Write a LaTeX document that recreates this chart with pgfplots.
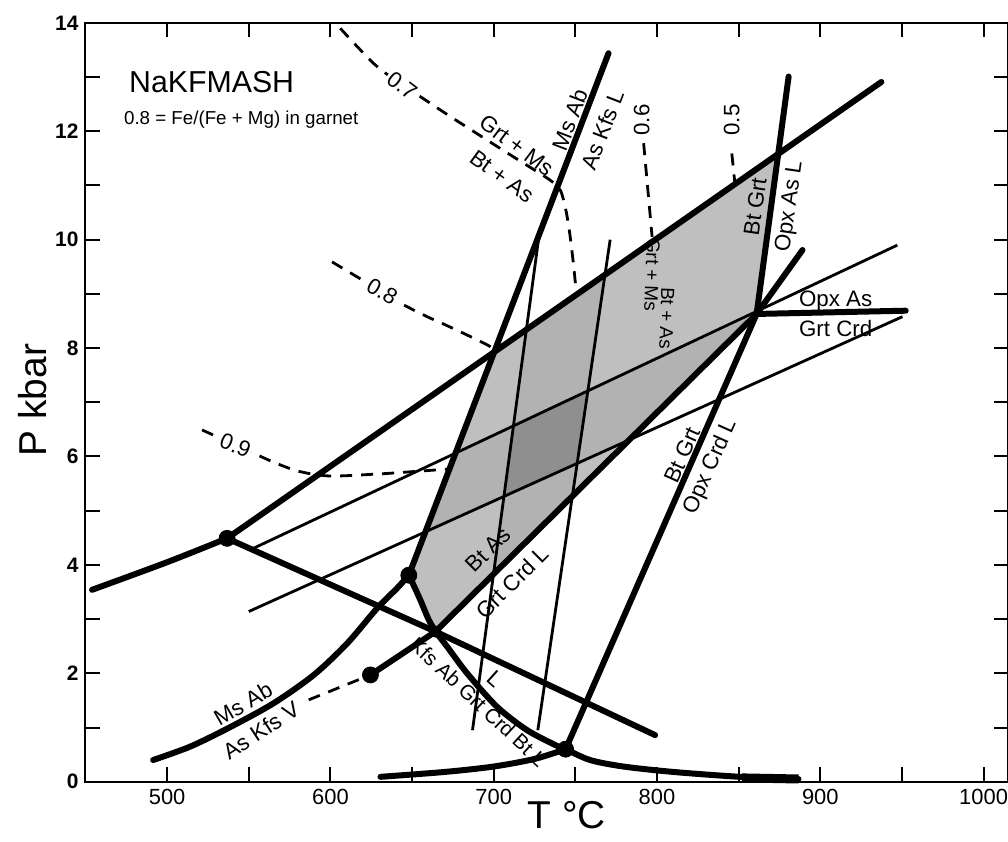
\documentclass[border=0pt]{standalone}
\usepackage{pgfplots}
\pgfplotsset{compat=1.18}
\usepackage{fontspec}
\setmainfont{Liberation Sans}
\newcommand\lbl{\fontsize{11.2}{13}\selectfont}
\tikzset{
  thk/.style={line width=3bp, black, line cap=round, line join=round},
  thn/.style={line width=1.4bp, black},
  dsh/.style={line width=1.4bp, black, dash pattern=on 6bp off 4.5bp},
}
\begin{document}
\begin{tikzpicture}
\useasboundingbox (-42.75bp,-30.15bp) rectangle (461.25bp,390.85bp);
\begin{axis}[
  scale only axis, width=461.3bp, height=379.4bp,
  xmin=450, xmax=1015, ymin=0, ymax=14,
  xtick={500,600,...,1000}, minor xtick={550,650,...,950},
  ytick={0,2,...,14}, minor ytick={1,3,...,13},
  xtick pos=both, ytick pos=both,
  xticklabel pos=lower, yticklabel pos=left,
  tick align=inside,
  major tick length=7.3bp, minor tick length=7.3bp,
  every tick/.style={line width=1bp, black},
  axis line style={line width=1bp},
  /pgf/number format/assume math mode=true,
  /pgf/number format/1000 sep={},
  xticklabel style={font=\fontsize{11}{13}\selectfont},
  yticklabel style={font=\fontsize{10.5}{12}\selectfont\bfseries},
  xlabel={T °C}, ylabel={P kbar},
  xlabel style={font=\fontsize{19.5}{22}\selectfont, at={(axis description cs:0.5219,-0.0439)}, anchor=center},
  ylabel style={font=\fontsize{19.5}{22}\selectfont, at={(axis description cs:-0.0569,0.503)}, anchor=center},
  clip=false,
]
% shaded field
\addplot[fill=gray!50, draw=none] coordinates {
  (648,3.81) (700.2,7.92) (874.1,11.57) (861,8.63) (664.3,2.77)
  (660,3.0) (655.1,3.35) (651,3.62)} -- cycle;
% bands between the thin lines
\addplot[fill=gray!60, draw=none] coordinates {
  (719.97,8.335) (768.09,9.345) (748.13,5.268) (699.85,3.829)} -- cycle;
\addplot[fill=gray!60, draw=none] coordinates {
  (676.59,6.061) (861,8.63) (783.0,6.307) (658.16,4.61)} -- cycle;
% dark field
\addplot[fill=gray!88, draw=none] coordinates {
  (712.06,6.563) (757.64,7.210) (751.1,5.873) (706.25,5.263)} -- cycle;

% thin lines
\addplot[thn] coordinates {(551,4.28) (947.2,9.9)};
\addplot[thn] coordinates {(550,3.14) (950.3,8.58)};
\addplot[thn] coordinates {(687,0.95) (727.4,10.0)};
\addplot[thn] coordinates {(727,0.95) (771.3,10.0)};

% thick lines
\addplot[thk, smooth] coordinates {(454,3.54) (500,4.05) (536.7,4.49)};
\addplot[thk] coordinates {(536.7,4.49) (937.4,12.91)};
\addplot[thk] coordinates {(536.7,4.49) (664.3,2.77) (798.8,0.86)};
\addplot[thk] coordinates {(648,3.81) (770.3,13.44)};
\addplot[thk, smooth] coordinates {(491.4,0.40) (514.3,0.65) (538.8,1.01) (565.3,1.45)
  (589.8,1.97) (610.2,2.55) (628.6,3.2) (640.8,3.57) (648,3.81)};
\addplot[thk, smooth] coordinates {(648,3.81) (651,3.62) (655.1,3.35) (660,3.0) (664.3,2.77)};
\addplot[thk, smooth] coordinates {(664.3,2.77) (671.5,2.49) (683.7,2.0) (702.1,1.38)
  (720.5,0.95) (738.8,0.66) (744,0.6) (759,0.40) (779.4,0.28) (810,0.18) (850.9,0.09) (886.6,0.05)};
\addplot[line width=4.5bp, black] coordinates {(852,0.07) (886.6,0.05)};
\addplot[thk, smooth] coordinates {(630.6,0.09) (670,0.18) (700,0.28) (725,0.42) (744,0.6)};
\addplot[thk] coordinates {(624.5,1.97) (664.3,2.77)};
\addplot[thk] coordinates {(664.3,2.77) (861,8.63)};
\addplot[thk] coordinates {(744,0.6) (861,8.63)};
\addplot[thk] coordinates {(861,8.63) (889.1,9.81)};
\addplot[thk] coordinates {(861,8.63) (880.6,13.01)};
\addplot[thk] coordinates {(861,8.63) (952.3,8.69)};

% dashed isopleths
\addplot[dsh, smooth, tension=0.4] coordinates {(606,13.9) (626.5,13.25) (643.9,12.85) (655,12.64)
  (672,12.3) (689.6,11.96) (712,11.53) (734.5,11.10) (741,10.9) (744.5,10.5) (746.8,10.06)
  (749,9.5) (750.8,8.95)};
\addplot[dsh, smooth] coordinates {(601,9.59) (621,9.23) (642.9,8.83) (659.2,8.58) (667.4,8.47)
  (681,8.28) (696,8.06) (700.5,7.97)};
\addplot[dsh, smooth] coordinates {(521.4,6.49) (541.8,6.21) (555.1,6.03) (568,5.86) (581.6,5.72)
  (600,5.64) (630.6,5.68) (650,5.72) (672.9,5.77)};
\addplot[dsh] coordinates {(791.8,11.78) (797,10.05)};
\addplot[dsh] coordinates {(845.8,11.59) (848,10.95)};
\addplot[dsh] coordinates {(586.7,1.51) (624.5,1.97)};

% invariant points
\addplot[only marks, mark=*, mark size=4bp, black] coordinates {
  (536.7,4.49) (648,3.81) (624.5,1.97) (744,0.6)};
\addplot[only marks, mark=*, mark size=2.8bp, black] coordinates {(664.3,2.77)};

% labels
\node[anchor=west, inner sep=0pt, font=\fontsize{15.2}{18}\selectfont] at (axis cs:476.5,12.9) {NaKFMASH};
\node[anchor=west, inner sep=0pt, font=\fontsize{9.4}{11}\selectfont] at (axis cs:473.4,12.21) {0.8 = Fe/(Fe + Mg) in garnet};
\node[font=\lbl, rotate=69] at (axis cs:746.5,12.21) {Ms Ab};
\node[font=\lbl, rotate=69] at (axis cs:766.5,12.02) {As Kfs L};
\node[font=\lbl, rotate=-37, fill=white, inner sep=1bp] at (axis cs:643.9,12.85) {0.7};
\node[font=\lbl, rotate=-37] at (axis cs:714,11.74) {Grt + Ms};
\node[font=\lbl, rotate=-36] at (axis cs:705,11.17) {Bt + As};
\node[font=\lbl, rotate=90] at (axis cs:790.6,12.21) {0.6};
\node[font=\lbl, rotate=90] at (axis cs:845.8,12.21) {0.5};
\node[font=\lbl, rotate=-30, fill=white, inner sep=1bp] at (axis cs:631.7,9.04) {0.8};
\node[font=\lbl, rotate=-22, fill=white, inner sep=1bp] at (axis cs:541.8,6.21) {0.9};
\node[font=\lbl, rotate=82] at (axis cs:860.0,10.61) {Bt Grt};
\node[font=\lbl, rotate=82] at (axis cs:881.5,10.61) {Opx As L};
\node[font=\lbl] at (axis cs:909.4,8.86) {Opx As};
\node[font=\lbl] at (axis cs:909.4,8.37) {Grt Crd};
\node[font=\lbl, rotate=66] at (axis cs:815.6,6.03) {Bt Grt};
\node[font=\lbl, rotate=66] at (axis cs:832.9,5.81) {Opx Crd L};
\node[font=\lbl, rotate=45] at (axis cs:696.6,4.28) {Bt As};
\node[font=\lbl, rotate=45] at (axis cs:711.3,3.68) {Grt Crd L};
\node[font=\fontsize{10.4}{12}\selectfont, rotate=-43] at (axis cs:690.5,1.47) {Kfs Ab Grt Crd Bt L};
\node[font=\lbl, rotate=-42] at (axis cs:701,1.90) {L};
\node[font=\lbl, rotate=30] at (axis cs:546.5,1.44) {Ms Ab};
\node[font=\lbl, rotate=33] at (axis cs:557.5,0.95) {As Kfs V};
\node[font=\fontsize{9.5}{11}\selectfont, rotate=-92] at (axis cs:797,9.35) {Grt + Ms};
\node[font=\fontsize{9.5}{11}\selectfont, rotate=-92] at (axis cs:806,8.55) {Bt + As};
\end{axis}
\end{tikzpicture}
\end{document}
